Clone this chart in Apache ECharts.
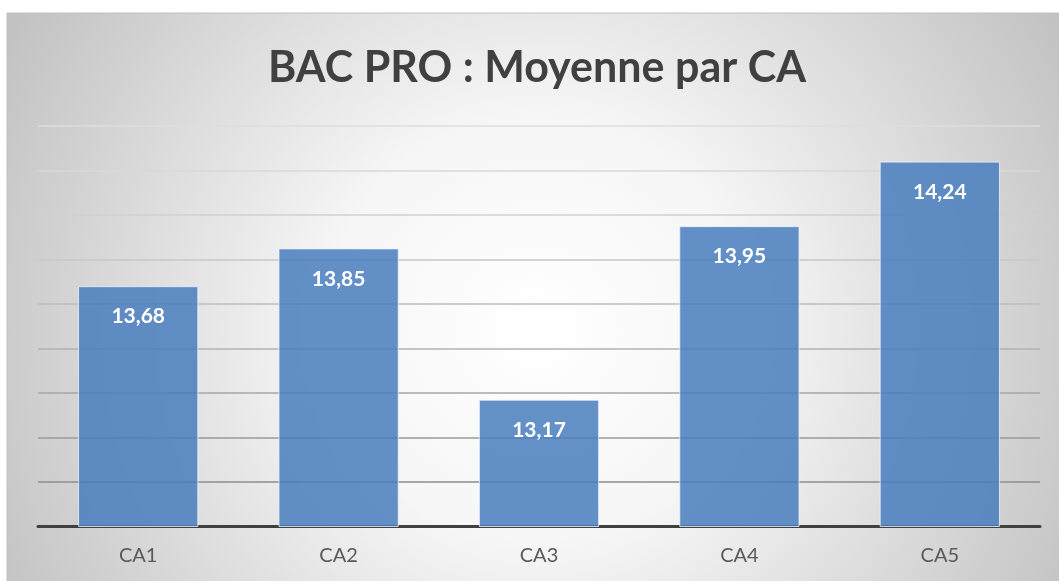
<!DOCTYPE html>
<html>
<head>
<meta charset="utf-8">
<script src="https://cdn.jsdelivr.net/npm/echarts@6/dist/echarts.min.js"></script>
<style>
html,body{margin:0;padding:0;background:#fff;}
#main{width:1059px;height:581px;}
</style>
</head>
<body>
<div id="main"></div>
<script>
var categories = ['CA1', 'CA2', 'CA3', 'CA4', 'CA5'];
var moyennes = [13.68, 13.85, 13.17, 13.95, 14.24];
var titleText = 'BAC PRO : Moyenne par CA';

var chart = echarts.init(document.getElementById('main'));
var gridColors = ['#7f7f7f', '#8c8c8c', '#9a9a9a', '#a6a6a6', '#b2b2b2', '#bdbdbd', '#c7c7c7', '#d0d0d0', '#d8d8d8', '#dedede'];
chart.setOption({
  animation: false,
  graphic: [{
    type: 'rect',
    z: -10,
    silent: true,
    shape: { x: 7, y: 13, width: 1060, height: 575 },
    style: {
      fill: {
        type: 'radial', x: 0.5, y: 0.55, r: 1.05,
        colorStops: [
          { offset: 0, color: '#ffffff' },
          { offset: 0.35, color: '#f6f6f6' },
          { offset: 1, color: '#c2c2c2' }
        ]
      },
      stroke: '#c0c0c0',
      lineWidth: 1
    }
  }],
  title: {
    text: titleText,
    left: 263,
    top: 42,
    textStyle: {
      fontFamily: 'Lato',
      fontWeight: 'bold',
      fontSize: 43,
      color: '#404040'
    }
  },
  grid: { left: 38, right: 19, top: 126, bottom: 54.5, containLabel: false },
  xAxis: {
    type: 'category',
    data: categories,
    axisTick: { show: false },
    axisLine: { lineStyle: { color: '#404040', width: 3 } },
    axisLabel: {
      fontFamily: 'Lato',
      fontSize: 20,
      color: '#595959',
      margin: 19
    }
  },
  yAxis: {
    type: 'value',
    min: 12.6,
    max: 14.4,
    interval: 0.2,
    axisLabel: { show: false },
    axisLine: { show: false },
    axisTick: { show: false },
    splitLine: { lineStyle: { color: gridColors, width: 1.5 } }
  },
  series: [{
    type: 'bar',
    data: moyennes,
    barCategoryGap: '40%',
    itemStyle: {
      color: 'rgba(72,124,189,0.85)',
      borderColor: 'rgba(235,242,250,0.8)',
      borderWidth: 1
    },
    label: {
      show: true,
      position: 'insideTop',
      distance: 20,
      formatter: function (p) { return p.value.toFixed(2).replace('.', ','); },
      fontFamily: 'Lato',
      fontWeight: 'bold',
      fontSize: 21,
      color: '#ffffff'
    }
  }]
});
</script>
</body>
</html>
